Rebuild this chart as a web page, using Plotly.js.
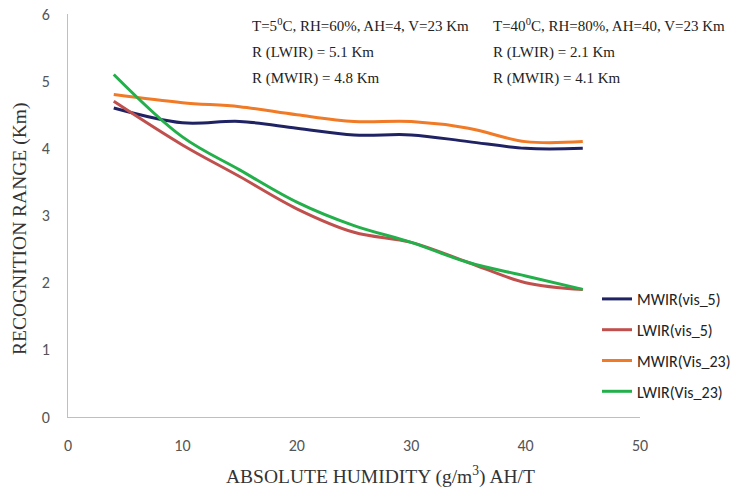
<!DOCTYPE html>
<html><head><meta charset="utf-8">
<script src="https://cdn.plot.ly/plotly-3.0.1.min.js"></script>
<style>html,body{margin:0;padding:0;background:#fff}#chart{width:751px;height:491px}</style>
</head><body><div id="chart"></div>
<script>
const humidity = [4, 10, 15, 20, 25, 30, 35, 40, 45];
const mwirVis5 = [4.6, 4.38, 4.4, 4.3, 4.2, 4.2, 4.1, 4.0, 4.0];
const lwirVis5 = [4.7, 4.05, 3.58, 3.1, 2.75, 2.6, 2.3, 2.0, 1.9];
const mwirVis23 = [4.8, 4.68, 4.62, 4.5, 4.4, 4.4, 4.3, 4.1, 4.1];
const lwirVis23 = [5.1, 4.17, 3.68, 3.2, 2.85, 2.6, 2.3, 2.1, 1.9];
const seriesNames = ["MWIR(vis_5)", "LWIR(vis_5)", "MWIR(Vis_23)", "LWIR(Vis_23)"];
const seriesColors = ["#1f2263", "#c0504d", "#f07a25", "#23b04b"];
const seriesData = [mwirVis5, lwirVis5, mwirVis23, lwirVis23];
const xTitle = 'ABSOLUTE HUMIDITY (g/m<sup>3</sup>) AH/T';
const yTitle = 'RECOGNITION RANGE (Km)';

const traces = seriesData.map((ys, i) => ({
  x: humidity, y: ys, name: seriesNames[i], type: 'scatter', mode: 'lines',
  line: {color: seriesColors[i], width: 3, shape: 'spline', smoothing: 1},
  legendgroup: 'g' + i
}));

const serif = 'Liberation Serif, Times New Roman, serif';
const sans = 'Carlito, Open Sans, Liberation Sans, sans-serif';
const annText = {size: 15, color: '#222', family: serif};
const px = v => (v - 68) / 572;
const py = v => (417 - v) / 403;
const notes = [
  {text: 'T=5<sup>0</sup>C, RH=60%, AH=4, V=23 Km', x: 250, y: 25},
  {text: 'R (LWIR) = 5.1 Km', x: 250, y: 52},
  {text: 'R (MWIR) = 4.8 Km', x: 250, y: 78},
  {text: 'T=40<sup>0</sup>C, RH=80%, AH=40, V=23 Km', x: 491, y: 25},
  {text: 'R (LWIR) = 2.1 Km', x: 491, y: 52},
  {text: 'R (MWIR) = 4.1 Km', x: 491, y: 78}
].map(a => ({text: a.text, xref: 'paper', yref: 'paper',
    x: px(a.x), y: py(a.y), xanchor: 'left', yanchor: 'middle',
    showarrow: false, font: annText}));
notes.push({text: xTitle, xref: 'paper', yref: 'paper', x: px(380), y: py(475),
  xanchor: 'center', yanchor: 'middle', showarrow: false,
  font: {family: serif, size: 19.5, color: '#333'}});
notes.push({text: yTitle, xref: 'paper', yref: 'paper', x: px(20), y: py(229),
  xanchor: 'center', yanchor: 'middle', textangle: -90, showarrow: false,
  font: {family: serif, size: 19.5, color: '#333'}});

const layout = {
  width: 751, height: 491,
  margin: {l: 68, r: 111, t: 14, b: 74},
  paper_bgcolor: '#fff', plot_bgcolor: '#fff',
  showlegend: true,
  legend: {x: px(597), y: py(282), xanchor: 'left', yanchor: 'top',
    font: {family: sans, size: 16, color: '#222'}, tracegroupgap: 7, bgcolor: 'rgba(0,0,0,0)'},
  xaxis: {range: [0, 50], tickvals: [0, 10, 20, 30, 40, 50], showgrid: false, zeroline: false,
    showline: true, linecolor: '#bfbfbf', linewidth: 1, ticks: '', ticklabelstandoff: 14,
    tickfont: {family: sans, size: 16, color: '#555'}},
  yaxis: {range: [0, 6], tickvals: [0, 1, 2, 3, 4, 5, 6], showgrid: false, zeroline: false,
    showline: true, linecolor: '#bfbfbf', linewidth: 1, ticks: '', ticklabelstandoff: 14,
    tickfont: {family: sans, size: 16, color: '#555'}},
  annotations: notes
};
Plotly.newPlot('chart', traces, layout, {displayModeBar: false, staticPlot: true});
</script></body></html>
